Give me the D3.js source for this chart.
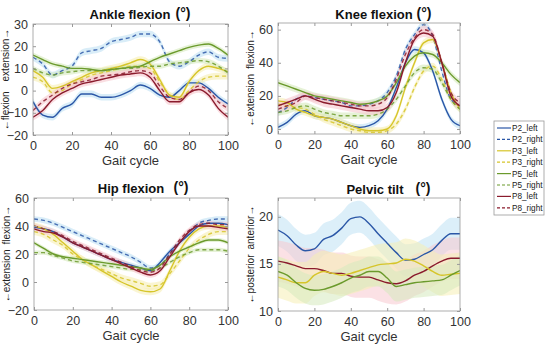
<!DOCTYPE html>
<html>
<head>
<meta charset="utf-8">
<script src="https://cdn.jsdelivr.net/npm/d3@7"></script>
<style>
  body { margin: 0; background: #fff; }
  text { font-family: "Liberation Sans", Arial, sans-serif; }
</style>
</head>
<body>
<svg id="chart" width="550" height="345"></svg>
<script>
// gait cycle samples (%)
const gait = [0, 5, 10, 15, 20, 25, 30, 35, 40, 45, 50, 55, 60, 65, 70, 75, 80, 85, 90, 95, 100];
const seriesNames = ["P2_left", "P2_right", "P3_left", "P3_right", "P5_left", "P5_right", "P8_left", "P8_right"];
const xTicks = [0, 20, 40, 60, 80, 100];

// ankle flexion (deg)
const ankleP2L = [-5, -11, -12, -8, -6, -1.5, -1.5, -3, -3, -2, 0, 2.5, 1, -2, -3, 0, 3.5, 3.5, 1, -3, -6];
const ankleP2R = [15, 12, 7, 9, 11, 17, 18, 19, 22, 23, 24, 25.5, 25.5, 22, 13, 11, 13, 16, 17.5, 15, 14.5];
const ankleP3L = [9, 6, 1, 2, 4, 6, 8, 9, 10, 11, 12.5, 14, 12, 5, -2, -3, 4, 9, 11, 10, 8.5];
const ankleP3R = [6, 4, -1, 0, 3, 5, 7, 8, 9, 10, 11, 11, 10, 4, -2, -4, 0, 4, 6, 6.5, 6.5];
const ankleP5L = [16, 14, 12, 11, 10, 10, 9.5, 9, 9.5, 10, 10.5, 11, 13, 15, 16.5, 18, 19.5, 20.5, 21, 19, 16];
const ankleP5R = [10, 8, 7, 8, 8.5, 9, 9, 9, 9.5, 10, 10, 10.5, 11, 11, 12, 12.5, 13, 13.5, 13, 11, 8];
const ankleP8L = [-12, -9, -4, -1, 1, 3, 4, 5, 6, 7, 7.5, 8, 6, 0, -5, -5, -1, 0.5, -2, -8, -12];
const ankleP8R = [-9, -5, -2, 1, 3, 4, 5, 6.5, 7, 7.5, 8.5, 9, 8, 2, -3, -4, -1, 2, 0, -5, -8];

// knee flexion (deg)
const kneeP2L = [1, 4, 9, 11, 8, 7, 6, 4, 2, 1, 2, 5, 12, 25, 40, 48, 46, 35, 18, 6, 2];
const kneeP2R = [10, 13, 18, 20, 19, 18, 17, 16, 14, 14, 15, 17, 22, 32, 48, 57, 63, 56, 35, 18, 14];
const kneeP3L = [17, 16, 12, 10, 8, 7, 6, 4, 2, 0, -1, -1, 0, 8, 25, 40, 52, 54, 40, 22, 12];
const kneeP3R = [15, 14, 13, 12, 9, 6, 4, 2, 0, -1, -2, -2, -1, 3, 12, 25, 35, 38, 30, 18, 12];
const kneeP5L = [28, 26, 24, 22, 20, 19, 18, 17, 16, 15, 15.5, 17, 20, 28, 38, 44, 46, 45, 40, 33, 28];
const kneeP5R = [10, 11, 13, 14, 12, 10, 9, 8, 8, 8, 8, 9, 12, 18, 26, 34, 37, 36, 28, 18, 12];
const kneeP8L = [14, 16, 18, 20, 18, 16, 15, 14, 13, 12, 11, 11, 13, 22, 40, 54, 58, 56, 40, 20, 14];
const kneeP8R = [12, 14, 16, 20, 19, 18, 17, 16, 15, 14, 14, 15, 19, 30, 45, 55, 60, 57, 40, 22, 16];

// hip flexion (deg)
const hipP2L = [39, 38, 36, 32, 28, 25, 22, 19, 16, 14, 12, 10, 8, 14, 22, 28, 34, 40, 42, 42, 41];
const hipP2R = [45, 44, 42, 39, 36, 33, 30, 27, 24, 21, 18, 14, 10, 12, 20, 28, 36, 42, 44, 45, 45];
const hipP3L = [40, 38, 34, 28, 22, 16, 12, 8, 4, 0, -3, -6, -7, -5, 8, 22, 32, 38, 40, 40, 39];
const hipP3R = [36, 34, 30, 26, 20, 16, 12, 9, 6, 3, 1, -1, -3, -2, 6, 15, 24, 30, 34, 36, 36];
const hipP5L = [28, 24, 20, 18, 17, 16, 15, 14, 13, 12, 11, 10, 9, 12, 18, 22, 25, 28, 30, 30, 28];
const hipP5R = [21, 21, 19, 17, 15, 14, 13, 12, 11, 10, 9, 9, 8, 10, 14, 18, 21, 23, 23, 23, 22];
const hipP8L = [38, 36, 35, 32, 28, 25, 22, 19, 16, 13, 10, 7, 5, 8, 18, 28, 36, 40, 40, 39, 38];
const hipP8R = [40, 38, 36, 33, 29, 26, 23, 20, 17, 14, 11, 8, 7, 10, 20, 30, 37, 41, 42, 41, 41];

// pelvic tilt (deg), left side only
const pelvisP2 = [18.6, 18, 17, 16.4, 16.6, 17.6, 18, 18.8, 19.8, 20, 19.3, 18.2, 17.2, 16.2, 15.4, 15.5, 16, 16.5, 17.5, 18.2, 18.2];
const pelvisP3 = [13.6, 13.3, 13, 13, 13.8, 14.2, 14, 13.8, 14, 14.3, 14.6, 14.9, 15, 15.1, 15.5, 15.3, 14.8, 14.2, 13.8, 13.9, 14];
const pelvisP5 = [14.2, 13.8, 13, 12.4, 12.2, 12.3, 12.6, 13, 13.5, 13.8, 14.2, 14.2, 13.5, 12.6, 12.8, 13, 13.1, 13.2, 13.3, 13.8, 14.3];
const pelvisP8 = [15.3, 15.1, 14.8, 14.5, 14.5, 14.3, 14, 14, 13.7, 13.6, 13.6, 13.3, 13, 12.9, 13.2, 13.8, 14.2, 14.8, 15.3, 15.6, 15.6];

// band half-widths (sd) per subject
const sdAnkle = [1.5, 1.5, 1.5, 1.5, 1.2, 1.2, 1.5, 1.5];
const sdKnee = [2, 2, 2, 2, 2, 2, 2.5, 2.5];
const sdHip = [2, 2, 2.5, 2.5, 1.5, 1.5, 2, 2];
const sdPelvis = [1.7, 2.2, 1.6, 2.2];

const colors = {P2: "#2b57a7", P3: "#d6c52a", P5: "#6b9a2c", P8: "#8a1b2d"};
const bandColors = {P2: "#bfe1f4", P3: "#f6eeb4", P5: "#d6eabd", P8: "#f7c8cf"};

const svg = d3.select("#chart");

const panels = [
  {title: "Ankle flexion", left: 33, right: 228, top: 24, bottom: 135, domain: [-20, 30], yTicks: [-20, -10, 0, 10, 20, 30],
   ylab: ["\u2190flexion", "extension\u2192"], gap: 10, titleX: 130, degX: 183, titleY: 19,
   series: [ankleP2L, ankleP2R, ankleP3L, ankleP3R, ankleP5L, ankleP5R, ankleP8L, ankleP8R], names: seriesNames, sd: sdAnkle},
  {title: "Knee flexion", left: 278, right: 460, top: 23, bottom: 134, domain: [-3, 64], yTicks: [0, 20, 40, 60],
   ylab: ["\u2190extension", "flexion\u2192"], gap: 5, titleX: 374, degX: 424, titleY: 19,
   series: [kneeP2L, kneeP2R, kneeP3L, kneeP3R, kneeP5L, kneeP5R, kneeP8L, kneeP8R], names: seriesNames, sd: sdKnee},
  {title: "Hip flexion", left: 34, right: 228, top: 198, bottom: 310, domain: [-20, 60], yTicks: [-20, 0, 20, 40, 60],
   ylab: ["\u2190extension", "flexion\u2192"], gap: 5, titleX: 131, degX: 181, titleY: 193,
   series: [hipP2L, hipP2R, hipP3L, hipP3R, hipP5L, hipP5R, hipP8L, hipP8R], names: seriesNames, sd: sdHip},
  {title: "Pelvic tilt", left: 278, right: 460, top: 198, bottom: 311, domain: [10, 22], yTicks: [10, 15, 20],
   ylab: ["\u2190posterior", "anterior\u2192"], gap: 5, titleX: 375, degX: 423, titleY: 194,
   series: [pelvisP2, pelvisP8, pelvisP3, pelvisP5], names: ["P2_left", "P8_left", "P3_left", "P5_left"], sd: [sdPelvis[0], sdPelvis[3], sdPelvis[1], sdPelvis[2]]}
];

panels.forEach((p, pi) => {
  const x = d3.scaleLinear().domain([0, 100]).range([p.left, p.right]);
  const y = d3.scaleLinear().domain(p.domain).range([p.bottom, p.top]);
  const g = svg.append("g");

  const clipId = "clip" + pi;
  g.append("clipPath").attr("id", clipId).append("rect")
    .attr("x", p.left).attr("y", p.top).attr("width", p.right - p.left).attr("height", p.bottom - p.top);

  const plot = g.append("g").attr("clip-path", `url(#${clipId})`);

  // shaded bands first
  p.series.forEach((vals, i) => {
    const key = p.names[i].slice(0, 2);
    const area = d3.area()
      .x((d, j) => x(gait[j]))
      .y0(d => y(d - p.sd[i]))
      .y1(d => y(d + p.sd[i]))
      .curve(d3.curveMonotoneX);
    plot.append("path").attr("d", area(vals))
      .attr("fill", bandColors[key]).attr("opacity", pi === 3 ? 0.55 : 0.6);
  });

  // lines
  p.series.forEach((vals, i) => {
    const key = p.names[i].slice(0, 2);
    const right = p.names[i].endsWith("right");
    const line = d3.line().x((d, j) => x(gait[j])).y(d => y(d)).curve(d3.curveMonotoneX);
    plot.append("path").attr("d", line(vals))
      .attr("fill", "none").attr("stroke", colors[key])
      .attr("stroke-width", 1.4)
      .attr("stroke-dasharray", right ? "4,3" : null)
      .attr("opacity", right ? 0.85 : 1);
  });

  // axes
  const xAxis = d3.axisBottom(x).tickValues(xTicks).tickSize(-3).tickPadding(6);
  const yAxis = d3.axisLeft(y).tickValues(p.yTicks).tickSize(-3).tickPadding(5);
  const ax = g.append("g").attr("transform", `translate(0,${p.bottom})`).call(xAxis);
  const ay = g.append("g").attr("transform", `translate(${p.left},0)`).call(yAxis);
  [ax, ay].forEach(a => {
    a.select(".domain").remove();
    a.selectAll("line").attr("stroke", "#999");
    a.selectAll("text").attr("font-size", 12.5).attr("fill", "#333")
      .attr("font-family", "Liberation Sans, Arial, sans-serif");
  });
  // top/right ticks (box style)
  const ax2 = g.append("g").attr("transform", `translate(0,${p.top})`).call(d3.axisTop(x).tickValues(xTicks).tickSize(-3).tickFormat(""));
  const ay2 = g.append("g").attr("transform", `translate(${p.right},0)`).call(d3.axisRight(y).tickValues(p.yTicks).tickSize(-3).tickFormat(""));
  [ax2, ay2].forEach(a => { a.select(".domain").remove(); a.selectAll("line").attr("stroke", "#999"); });

  g.append("rect").attr("x", p.left).attr("y", p.top)
    .attr("width", p.right - p.left).attr("height", p.bottom - p.top)
    .attr("fill", "none").attr("stroke", "#999").attr("stroke-width", 0.8);

  // labels
  g.append("text").attr("x", (p.left + p.right) / 2).attr("y", p.bottom + 30)
    .attr("text-anchor", "middle").attr("font-size", 13).attr("fill", "#333").text("Gait cycle");
  g.append("text").attr("x", p.titleX).attr("y", p.titleY)
    .attr("text-anchor", "middle").attr("font-size", 13).attr("font-weight", "bold").attr("fill", "#111").text(p.title);
  g.append("text").attr("x", p.degX).attr("y", p.titleY - 1)
    .attr("text-anchor", "middle").attr("font-size", 14).attr("font-weight", "bold").attr("fill", "#111").text("(\u00b0)");

  const midY = (p.top + p.bottom) / 2;
  const yl = g.append("text")
    .attr("transform", `translate(${p.left - 24},${midY}) rotate(-90)`)
    .attr("text-anchor", "middle").attr("font-size", 10).attr("fill", "#222");
  yl.append("tspan").text(p.ylab[0]);
  yl.append("tspan").attr("dx", p.gap).text(p.ylab[1]);
});

// legend
const legend = svg.append("g");
legend.append("rect").attr("x", 494).attr("y", 121).attr("width", 50).attr("height", 94)
  .attr("fill", "#fff").attr("stroke", "#999").attr("stroke-width", 0.8);
seriesNames.forEach((n, i) => {
  const key = n.slice(0, 2);
  const yy = 128 + i * 11.4;
  legend.append("line").attr("x1", 497).attr("x2", 511).attr("y1", yy).attr("y2", yy)
    .attr("stroke", colors[key]).attr("stroke-width", 1.2)
    .attr("stroke-dasharray", n.endsWith("right") ? "3,2" : null);
  legend.append("text").attr("x", 512).attr("y", yy + 3).attr("font-size", 8.2).attr("fill", "#222").text(n);
});
</script>
</body>
</html>
